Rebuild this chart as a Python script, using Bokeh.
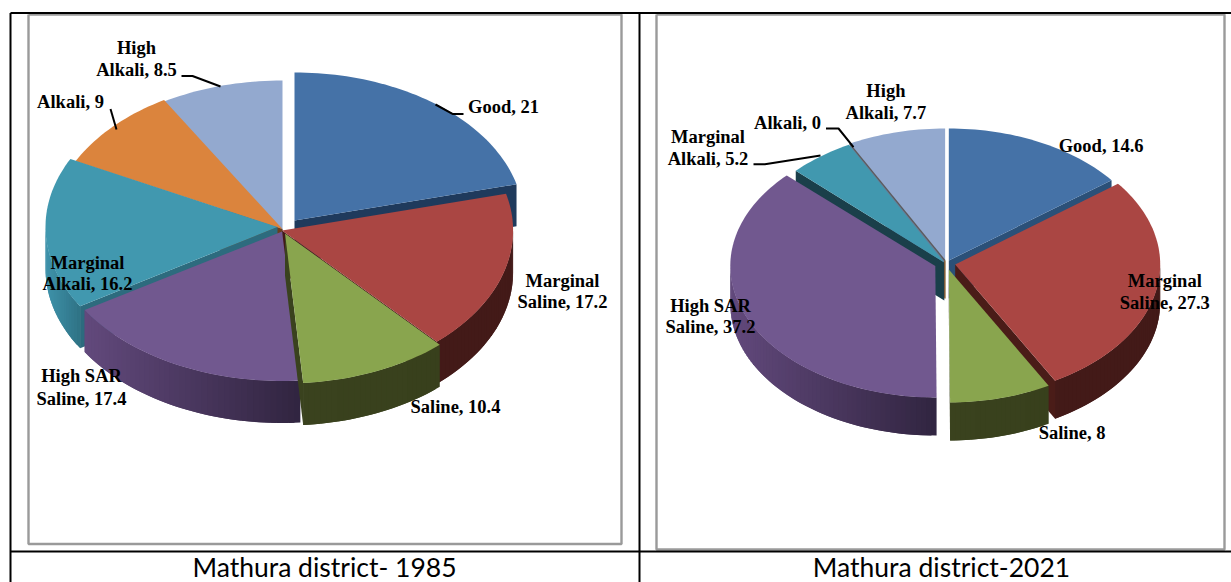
import math
from bokeh.plotting import figure
from bokeh.models import ColumnDataSource, Range1d
from bokeh.core.properties import value
from bokeh.embed import file_html
from bokeh.resources import INLINE

# ---- data ----
categories = ["Good", "Marginal Saline", "Saline", "High SAR Saline", "Marginal Alkali", "Alkali", "High Alkali"]
values_1985 = [21, 17.2, 10.4, 17.4, 16.2, 9, 8.5]
values_2021 = [14.6, 27.3, 8, 37.2, 5.2, 0, 7.7]
caption_1985 = "Mathura district- 1985"
caption_2021 = "Mathura district-2021"

# ---- styles ----
TOP = ["#4572A7", "#AA4643", "#89A54E", "#71588F", "#4198AF", "#DB843D", "#93A9CF"]
WALL = {  # left colour, right colour of the shaded outer wall
    0: ("#1F3A5C", "#1F3A5C"), 1: ("#431A18", "#431A18"), 2: ("#3A421E", "#38401C"),
    3: ("#62497C", "#30243F"), 4: ("#3F93AB", "#2E7183"), 5: ("#6B3F1C", "#6B3F1C"), 6: ("#6A7A98", "#6A7A98"),
}
ORDER = [0, 6, 5, 4, 1, 3, 2]  # back to front

GEOM_1985 = dict(depth=42,
    face=["#1F3A5C", "#431A18", "#3A421E", "#3A2C4C", "#2D6B7E", "#6B3F1C", "#6A7A98"],
    wedges={
    0: (294, 220, 229, 148), 1: (281.6, 230, 231, 150), 2: (284.5, 233, 231, 150), 3: (281.6, 231, 232, 149.5),
    4: (277, 226.5, 232, 151), 5: (282, 228.5, 232, 150), 6: (282, 230, 232, 150)})
GEOM_2021 = dict(depth=38,
    face=["#2B5078", "#4A1C18", "#3A421E", "#3A2C4C", "#1A3F4A", "#6B3F1C", "#6A7A98"],
    wedges={
    0: (948.3, 260, 205, 132), 1: (954.7, 264, 205, 133), 2: (948.3, 269, 205, 133), 3: (934.8, 265.5, 205, 131.5),
    4: (943.8, 262, 205, 133), 5: (944.4, 260, 205, 132), 6: (944.6, 260, 205, 132)})

pieces = dict(xs=[], ys=[], color=[])
zero_lines = dict(xs=[], ys=[], color=[])


def add(xs, ys, c):
    pieces["xs"].append(xs)
    pieces["ys"].append(ys)
    pieces["color"].append(c)


def pt(g, t):
    cx, cy, rx, ry = g
    return cx + rx * math.sin(t), cy - ry * math.cos(t)


def mix(a, b, f):
    ca = [int(a[i:i + 2], 16) for i in (1, 3, 5)]
    cb = [int(b[i:i + 2], 16) for i in (1, 3, 5)]
    return "#%02x%02x%02x" % tuple(round(p + (q - p) * f) for p, q in zip(ca, cb))


def draw_pie(vals, geom):
    total = sum(vals)
    depth = geom["depth"]
    cum = 0
    spans = []
    for v in vals:
        a = cum / total * 2 * math.pi
        cum += v
        spans.append((a, cum / total * 2 * math.pi))
    for i in ORDER:
        a, b = spans[i]
        g = geom["wedges"][i]
        cx, cy = g[0], g[1]
        if b - a < 1e-9:
            x, y = pt(g, a)
            zero_lines["xs"] += [[cx, x], [cx, cx]]
            zero_lines["ys"] += [[cy, y], [cy, cy + depth]]
            zero_lines["color"] += ["#5A5A5A", "#8A5A24"]
            continue
        # cut faces
        if math.sin(a) < -1e-6:
            x, y = pt(g, a)
            add([cx, x, x, cx], [cy, y, y + depth, cy + depth], geom["face"][i])
        if math.sin(b) > 1e-6:
            x, y = pt(g, b)
            add([cx, x, x, cx], [cy, y, y + depth, cy + depth], geom["face"][i])
        # outer wall, visible on the near half
        lo, hi = max(a, math.pi / 2), min(b, 3 * math.pi / 2)
        if hi > lo:
            n = max(4, int((hi - lo) * 40))
            ts = [lo + (hi - lo) * k / n for k in range(n + 1)]
            xx = [pt(g, t)[0] for t in ts]
            xmin, xmax = min(xx), max(xx)
            for k in range(n):
                t1, t2 = ts[k], ts[min(k + 2, n)]
                x1, y1 = pt(g, t1)
                x2, y2 = pt(g, t2)
                f = ((x1 + x2) / 2 - xmin) / (xmax - xmin)
                add([x1, x2, x2, x1], [y1, y2, y2 + depth, y1 + depth], mix(WALL[i][0], WALL[i][1], f))
        # top
        n = max(3, int((b - a) * 40))
        ts = [a + (b - a) * k / n for k in range(n + 1)]
        arc = [pt(g, t) for t in ts]
        add([cx] + [p[0] for p in arc], [cy] + [p[1] for p in arc], TOP[i])


draw_pie(values_1985, GEOM_1985)
draw_pie(values_2021, GEOM_2021)

W, H = 1231, 582
p = figure(width=W, height=H, x_range=Range1d(0, W), y_range=Range1d(H, 0),
           toolbar_location=None, output_backend="svg", min_border=0,
           x_axis_type=None, y_axis_type=None)
p.grid.visible = False
p.outline_line_color = None
p.background_fill_color = "white"
p.styles = {"position": "absolute", "left": "0px", "top": "0px"}

# frames
gray = "#9A9A9A"
for xs, ys in [([28, 621, 621, 28, 28], [14, 14, 543.5, 543.5, 14]),
               ([656, 1224, 1224, 656, 656], [14, 14, 549, 549, 14])]:
    p.line(xs, ys, line_color=gray, line_width=2.4)
for xs, ys in [([10, 1231], [12.6, 12.6]), ([10, 10], [12.6, 582]), ([639, 639], [12.6, 582]), ([10, 1231], [551, 551])]:
    p.line(xs, ys, line_color="black", line_width=2)

src = ColumnDataSource(pieces)
p.patches("xs", "ys", source=src, fill_color="color", line_color=None)
if zero_lines["xs"]:
    p.multi_line("xs", "ys", source=ColumnDataSource(zero_lines), line_color="color", line_width=1.3)

# leaders
leaders = [
    ([181, 192, 220], [75.5, 75.5, 86]),
    ([110, 116], [108.5, 129]),
    ([435, 452, 463], [104, 113.4, 113.4]),
    ([753, 764.4, 820], [163.7, 163.7, 155]),
    ([825.5, 838, 853], [128, 128, 146.6]),
]
for xs, ys in leaders:
    p.line(xs, ys, line_color="black", line_width=2)

# labels
labels = [
    (136, 47, "High"), (136, 69, "Alkali, 8.5"), (70, 101.5, "Alkali, 9"), (503, 106.5, "Good, 21"),
    (562, 280.5, "Marginal"), (562, 301.5, "Saline, 17.2"), (455, 406.5, "Saline, 10.4"),
    (81, 375.5, "High SAR"), (81, 398, "Saline, 17.4"), (87, 262, "Marginal"), (87, 283.5, "Alkali, 16.2"),
    (885.4, 90.5, "High"), (885.4, 112.5, "Alkali, 7.7"), (787, 122.5, "Alkali, 0"),
    (707.5, 136.5, "Marginal"), (707.5, 158.5, "Alkali, 5.2"), (1100.6, 145.5, "Good, 14.6"),
    (1164.3, 280.5, "Marginal"), (1164.3, 302.5, "Saline, 27.3"), (710, 305.5, "High SAR"), (710, 326.5, "Saline, 37.2"),
    (1071.6, 432.5, "Saline, 8"),
]
p.text([l[0] for l in labels], [l[1] for l in labels], text=[l[2] for l in labels],
       text_font=value("Liberation Serif"), text_font_style="bold", text_font_size="18.5px",
       text_color="black", text_align="center", text_baseline="middle")

# captions
p.text([324, 941], [566.5, 566.5], text=[caption_1985, caption_2021], text_font=value("Lato"),
       text_font_size="26.5px", text_color="black", text_align="center", text_baseline="middle")

open("out.html", "w").write(file_html(p, INLINE))
